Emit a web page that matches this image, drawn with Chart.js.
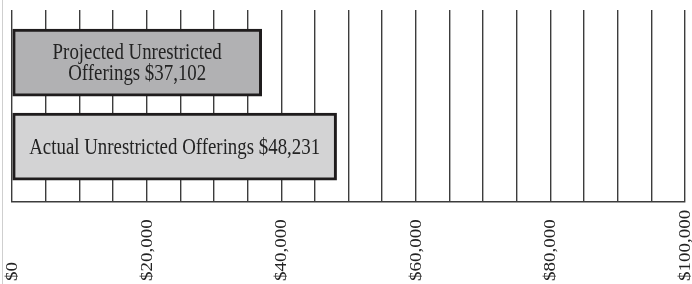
<!DOCTYPE html>
<html>
<head>
<meta charset="utf-8">
<script src="https://cdn.jsdelivr.net/npm/chart.js@4"></script>
<style>
  html, body { margin: 0; padding: 0; background: #fff; }
  .wrap { position: relative; width: 692px; height: 284px; }
  .edge { position: absolute; left: 2px; top: 0; width: 1px; height: 284px; background: #cfcfcf; }
</style>
</head>
<body>
<div class="wrap">
  <div class="edge"></div>
  <canvas id="offerings_chart"></canvas>
</div>
<script>
const categories = ["Projected Unrestricted Offerings", "Actual Unrestricted Offerings"];
const amounts = [37102, 48231];
const barColors = ["#b1b1b3", "#d3d3d4"];
const tickValues = [0, 20000, 40000, 60000, 80000, 100000];
const tickLabels = ["$0", "$20,000", "$40,000", "$60,000", "$80,000", "$100,000"];

const SERIF = '"Liberation Serif", "Times New Roman", serif';

// text inside the bars, wrapped when it does not fit
const barText = {
  id: "barText",
  afterDatasetsDraw(chart) {
    const ctx = chart.ctx;
    const meta = chart.getDatasetMeta(0);
    const size = 23, squeeze = 0.82, lineH = 21;
    ctx.save();
    ctx.font = size + "px " + SERIF;
    ctx.fillStyle = "#232323";
    ctx.textAlign = "center";
    ctx.textBaseline = "alphabetic";
    meta.data.forEach((bar, i) => {
      const text = categories[i] + " $" + amounts[i].toLocaleString("en-US");
      const maxW = Math.abs(bar.x - bar.base) - 30;
      const words = text.split(" ");
      const lines = [];
      let cur = "";
      words.forEach((w) => {
        const test = cur ? cur + " " + w : w;
        if (cur && ctx.measureText(test).width * squeeze > maxW) {
          lines.push(cur);
          cur = w;
        } else {
          cur = test;
        }
      });
      lines.push(cur);
      const cx = (bar.x + bar.base) / 2;
      lines.forEach((ln, j) => {
        const y = bar.y + size * 0.32 + (j - (lines.length - 1) / 2) * lineH;
        ctx.save();
        ctx.translate(cx, y);
        ctx.scale(squeeze, 1);
        ctx.fillText(ln, 0, 0);
        ctx.restore();
      });
    });
    ctx.restore();
  },
};

// rotated money labels, read bottom to top, aligned at the bottom
const moneyTicks = {
  id: "moneyTicks",
  afterDraw(chart) {
    const ctx = chart.ctx;
    const xs = chart.scales.x;
    ctx.save();
    ctx.font = "19px " + SERIF;
    ctx.fillStyle = "#232323";
    ctx.textAlign = "left";
    ctx.textBaseline = "alphabetic";
    tickValues.forEach((v, i) => {
      const px = xs.getPixelForValue(v);
      ctx.save();
      ctx.translate(px + 5, 281);
      ctx.rotate(-Math.PI / 2);
      ctx.scale(1, 0.85);
      ctx.fillText(tickLabels[i], 0, 0);
      ctx.restore();
    });
    ctx.restore();
  },
};

new Chart(document.getElementById("offerings_chart"), {
  type: "bar",
  data: {
    datasets: [
      {
        data: amounts.map((v, i) => ({ x: v, y: i })),
        backgroundColor: barColors,
        borderColor: "#1f1c1d",
        borderWidth: 3,
        borderSkipped: false,
        barThickness: 67,
      },
    ],
  },
  options: {
    indexAxis: "y",
    responsive: true,
    maintainAspectRatio: false,
    animation: false,
    layout: { padding: { left: 12, right: 7, top: 10, bottom: 82 } },
    plugins: {
      legend: { display: false },
      tooltip: { enabled: false },
    },
    scales: {
      x: {
        type: "linear",
        min: 0,
        max: 100000,
        ticks: { stepSize: 5000, display: false },
        grid: { color: "#3c3c3c", lineWidth: 1.4, drawTicks: false },
        border: { display: true, color: "#3c3c3c", width: 1.6 },
      },
      y: {
        type: "linear",
        reverse: true,
        offset: false,
        min: -0.625,
        max: 1.658,
        display: false,
        grid: { display: false },
      },
    },
  },
  plugins: [barText, moneyTicks],
});
</script>
</body>
</html>
